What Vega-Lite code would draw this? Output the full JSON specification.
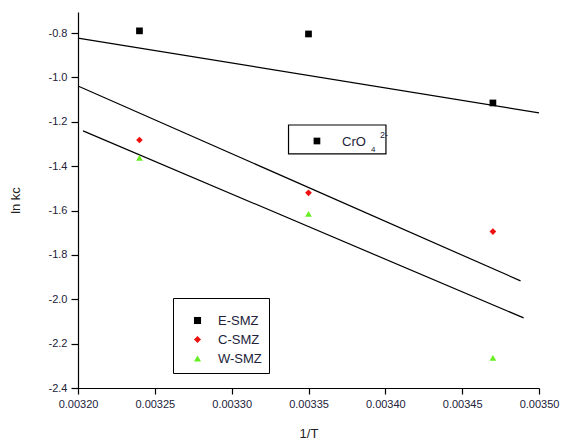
{
  "$schema": "https://vega.github.io/schema/vega-lite/v6.json",
  "width": 461,
  "height": 376,
  "autosize": {"type": "none"},
  "padding": {"left": 78, "top": 12, "right": 25, "bottom": 55},
  "background": "white",
  "config": {
    "view": {"stroke": null},
    "font": "Liberation Sans",
    "axis": {
      "grid": false,
      "domainColor": "black",
      "domainWidth": 1.2,
      "tickColor": "black",
      "tickWidth": 1.2,
      "labelFont": "Liberation Sans",
      "labelFontSize": 11,
      "labelColor": "#22223a",
      "labelFlush": false,
      "titleFont": "Liberation Sans",
      "titleFontWeight": "normal",
      "titleFontSize": 13,
      "titleColor": "#222222"
    },
    "legend": {
      "orient": "none",
      "legendX": 95,
      "legendY": 286,
      "strokeColor": "black",
      "fillColor": "white",
      "padding": 7,
      "labelFont": "Liberation Sans",
      "labelFontSize": 13,
      "labelColor": "#22223a",
      "symbolSize": 50,
      "symbolStrokeWidth": 0,
      "symbolOffset": 11,
      "rowPadding": 5,
      "labelOffset": 14,
      "titleFontSize": 7,
      "titlePadding": 2
    }
  },
  "datasets": {
    "fits": [
      {"fit": "E", "x": 0.0032, "y": -0.8225},
      {"fit": "E", "x": 0.0035, "y": -1.160},
      {"fit": "C", "x": 0.0032, "y": -1.0387},
      {"fit": "C", "x": 0.003488, "y": -1.917},
      {"fit": "W", "x": 0.0032033, "y": -1.241},
      {"fit": "W", "x": 0.00349, "y": -2.084}
    ],
    "pts": [
      {"series": "E-SMZ", "x": 0.00324, "y": -0.79},
      {"series": "E-SMZ", "x": 0.00335, "y": -0.804},
      {"series": "E-SMZ", "x": 0.00347, "y": -1.115},
      {"series": "C-SMZ", "x": 0.00324, "y": -1.282},
      {"series": "C-SMZ", "x": 0.00335, "y": -1.52},
      {"series": "C-SMZ", "x": 0.00347, "y": -1.695},
      {"series": "W-SMZ", "x": 0.00324, "y": -1.363},
      {"series": "W-SMZ", "x": 0.00335, "y": -1.615},
      {"series": "W-SMZ", "x": 0.00347, "y": -2.264}
    ],
    "box": [
      {"x": 0.003337, "x2": 0.0034004, "y": -1.2144, "y2": -1.345}
    ],
    "marker": [
      {"x": 0.0033555, "y": -1.2865}
    ],
    "labels": [
      {"t": "CrO", "x": 0.0033718, "y": -1.309}
    ],
    "sub": [
      {"t": "4", "x": 0.0033907, "y": -1.338}
    ],
    "sup": [
      {"t": "2-", "x": 0.0033965, "y": -1.273}
    ]
  },
  "layer": [
    {
      "data": {"name": "fits"},
      "mark": {"type": "line", "color": "black", "strokeWidth": 1.2},
      "encoding": {
        "x": {
          "field": "x", "type": "quantitative",
          "scale": {"domain": [0.0032, 0.0035], "nice": false, "zero": false},
          "axis": {
            "orient": "bottom",
            "title": "1/T",
            "values": [0.0032, 0.003225, 0.00325, 0.003275, 0.0033, 0.003325, 0.00335, 0.003375, 0.0034, 0.003425, 0.00345, 0.003475, 0.0035],
            "format": ".5f",
            "labelExpr": "round(datum.value * 40000) % 2 === 0 ? datum.label : ''",
            "tickSize": {"condition": {"test": "round(datum.value * 40000) % 2 === 0", "value": 6}, "value": 3},
            "labelPadding": 4,
            "titlePadding": 18
          }
        },
        "y": {
          "field": "y", "type": "quantitative",
          "scale": {"domain": [-2.4, -0.705], "nice": false, "zero": false},
          "axis": {
            "orient": "left",
            "title": "ln kc",
            "values": [-2.4, -2.3, -2.2, -2.1, -2.0, -1.9, -1.8, -1.7, -1.6, -1.5, -1.4, -1.3, -1.2, -1.1, -1.0, -0.9, -0.8],
            "format": ".1f",
            "labelExpr": "round(datum.value * 10) % 2 === 0 ? replace(datum.label, '\u2212', '-') : ''",
            "tickSize": {"condition": {"test": "round(datum.value * 10) % 2 === 0", "value": 7}, "value": 4},
            "labelPadding": 4,
            "titlePadding": 26
          }
        },
        "detail": {"field": "fit", "type": "nominal"}
      }
    },
    {
      "data": {"name": "pts"},
      "mark": {"type": "point", "filled": true, "size": 45, "opacity": 1},
      "encoding": {
        "x": {"field": "x", "type": "quantitative"},
        "y": {"field": "y", "type": "quantitative"},
        "color": {
          "field": "series", "type": "nominal",
          "scale": {"domain": ["E-SMZ", "C-SMZ", "W-SMZ"], "range": ["#000000", "#ee1111", "#66ee22"]},
          "legend": {"title": "\u00a0", "labelExpr": "datum.label + '\u00a0\u00a0\u00a0\u00a0\u00a0\u00a0'"}
        },
        "shape": {
          "field": "series", "type": "nominal",
          "scale": {"domain": ["E-SMZ", "C-SMZ", "W-SMZ"], "range": ["square", "diamond", "triangle-up"]},
          "legend": {"title": "\u00a0", "labelExpr": "datum.label + '\u00a0\u00a0\u00a0\u00a0\u00a0\u00a0'"}
        }
      }
    },
    {
      "data": {"name": "box"},
      "mark": {"type": "rect", "fill": "white", "stroke": "black", "strokeWidth": 1.2},
      "encoding": {
        "x": {"field": "x", "type": "quantitative"},
        "x2": {"field": "x2"},
        "y": {"field": "y", "type": "quantitative"},
        "y2": {"field": "y2"}
      }
    },
    {
      "data": {"name": "marker"},
      "mark": {"type": "point", "shape": "square", "filled": true, "color": "black", "size": 45, "opacity": 1},
      "encoding": {
        "x": {"field": "x", "type": "quantitative"},
        "y": {"field": "y", "type": "quantitative"}
      }
    },
    {
      "data": {"name": "labels"},
      "mark": {"type": "text", "align": "left", "baseline": "alphabetic", "fontSize": 13, "font": "Liberation Sans", "color": "#22223a"},
      "encoding": {
        "x": {"field": "x", "type": "quantitative"},
        "y": {"field": "y", "type": "quantitative"},
        "text": {"field": "t"}
      }
    },
    {
      "data": {"name": "sub"},
      "mark": {"type": "text", "align": "left", "baseline": "alphabetic", "fontSize": 8, "font": "Liberation Sans", "color": "#22223a"},
      "encoding": {
        "x": {"field": "x", "type": "quantitative"},
        "y": {"field": "y", "type": "quantitative"},
        "text": {"field": "t"}
      }
    },
    {
      "data": {"name": "sup"},
      "mark": {"type": "text", "align": "left", "baseline": "alphabetic", "fontSize": 9, "font": "Liberation Sans", "color": "#22223a"},
      "encoding": {
        "x": {"field": "x", "type": "quantitative"},
        "y": {"field": "y", "type": "quantitative"},
        "text": {"field": "t"}
      }
    }
  ]
}
